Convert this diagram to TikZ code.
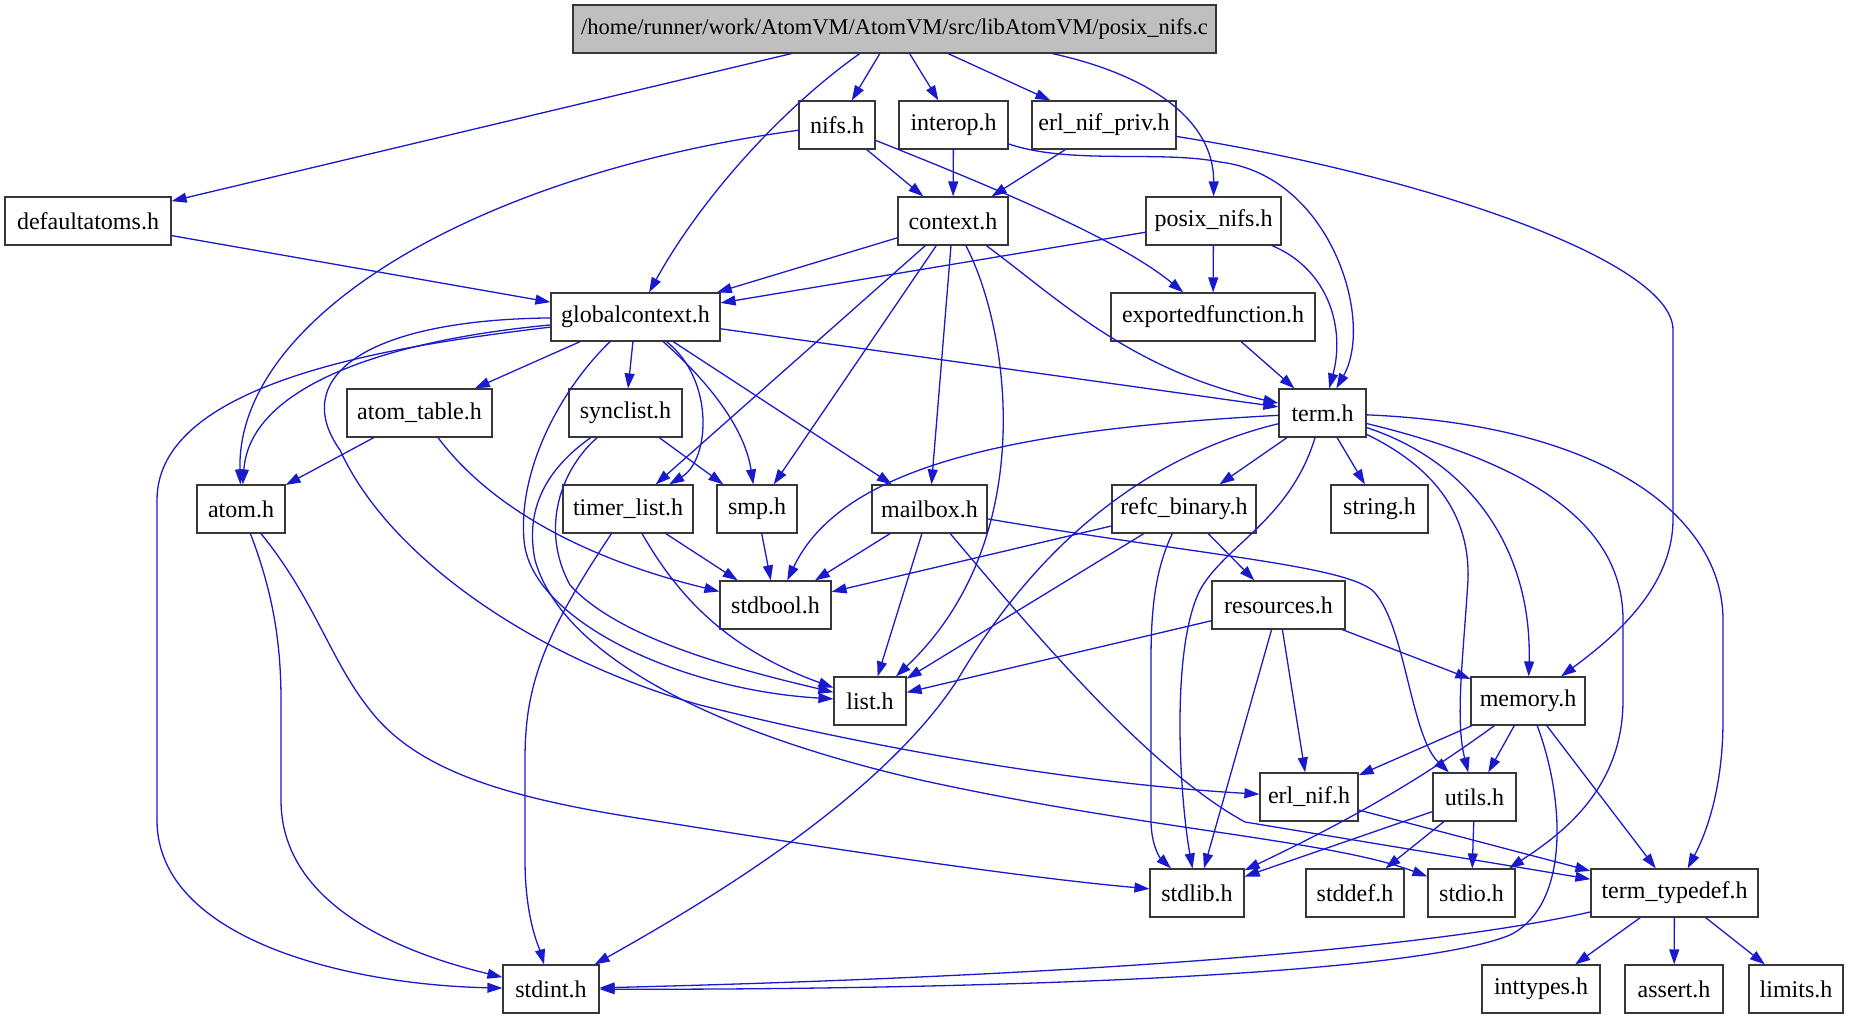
\documentclass[tikz,border=0pt]{standalone}
\usepackage{fontspec}
\setmainfont{Liberation Serif}
\usetikzlibrary{arrows.meta}
\definecolor{edgeblue}{RGB}{25,25,205}
\definecolor{rootgrey}{RGB}{191,191,191}
\definecolor{boxline}{RGB}{55,55,55}

\begin{document}
\begin{tikzpicture}[x=1pt,y=-1pt,
  every node/.style={draw=boxline,line width=1.2pt,fill=white,minimum height=48pt,inner sep=0pt,font=\fontsize{24}{28}\selectfont},
  incl/.style={draw=edgeblue,line width=1.3pt,-{Triangle[length=15pt,width=10pt]}}]
  \useasboundingbox (0,0) rectangle (1849,1019);

  \node[fill=rootgrey,minimum width=643pt,font=\fontsize{22.5}{26}\selectfont] (posixnifsc) at (894.5,29) {/home/runner/work/AtomVM/AtomVM/src/libAtomVM/posix\_nifs.c};
  \node[minimum width=76pt] (nifs) at (837,125) {nifs.h};
  \node[minimum width=109pt] (interop) at (953.5,125) {interop.h};
  \node[minimum width=144pt] (erlnifpriv) at (1104,125) {erl\_nif\_priv.h};
  \node[minimum width=166pt] (defaultatoms) at (88,221) {defaultatoms.h};
  \node[minimum width=110pt] (context) at (953,221) {context.h};
  \node[minimum width=135pt] (posixnifs) at (1213.5,221) {posix\_nifs.h};
  \node[minimum width=169pt] (globalcontext) at (635.5,317) {globalcontext.h};
  \node[minimum width=204pt] (exportedfunction) at (1213,317) {exportedfunction.h};
  \node[minimum width=145pt] (atomtable) at (419.5,413) {atom\_table.h};
  \node[minimum width=113pt] (synclist) at (625.5,413) {synclist.h};
  \node[minimum width=87pt] (term) at (1322.5,413) {term.h};
  \node[minimum width=88pt] (atom) at (241,509) {atom.h};
  \node[minimum width=130pt] (timerlist) at (628,509) {timer\_list.h};
  \node[minimum width=80pt] (smp) at (757,509) {smp.h};
  \node[minimum width=115pt] (mailbox) at (929.5,509) {mailbox.h};
  \node[minimum width=144pt] (refcbinary) at (1184,509) {refc\_binary.h};
  \node[minimum width=97pt] (string) at (1379.5,509) {string.h};
  \node[minimum width=111pt] (stdbool) at (775.5,605) {stdbool.h};
  \node[minimum width=133pt] (resources) at (1278.5,605) {resources.h};
  \node[minimum width=72pt] (list) at (870,701) {list.h};
  \node[minimum width=114pt] (memory) at (1528,701) {memory.h};
  \node[minimum width=98pt] (erlnif) at (1309,797) {erl\_nif.h};
  \node[minimum width=83pt] (utils) at (1474.5,797) {utils.h};
  \node[minimum width=94pt] (stdlib) at (1197,893) {stdlib.h};
  \node[minimum width=98pt] (stddef) at (1355,893) {stddef.h};
  \node[minimum width=87pt] (stdio) at (1471.5,893) {stdio.h};
  \node[minimum width=167pt] (termtypedef) at (1674.5,893) {term\_typedef.h};
  \node[minimum width=96pt] (stdint) at (551,989) {stdint.h};
  \node[minimum width=118pt] (inttypes) at (1541,989) {inttypes.h};
  \node[minimum width=98pt] (assert) at (1674,989) {assert.h};
  \node[minimum width=94pt] (limits) at (1796,989) {limits.h};

  % straight includes
  \foreach \a/\b in {posixnifsc/defaultatoms,posixnifsc/nifs,posixnifsc/interop,posixnifsc/erlnifpriv,
    nifs/context,interop/context,erlnifpriv/context,defaultatoms/globalcontext,context/globalcontext,
    context/timerlist,context/smp,context/mailbox,posixnifs/globalcontext,posixnifs/exportedfunction,
    exportedfunction/term,globalcontext/term,globalcontext/atomtable,globalcontext/synclist,globalcontext/mailbox,
    atomtable/atom,synclist/smp,timerlist/stdbool,smp/stdbool,mailbox/stdbool,mailbox/list,
    term/refcbinary,term/string,refcbinary/stdbool,refcbinary/list,refcbinary/resources,
    resources/list,resources/stdlib,resources/erlnif,resources/memory,
    memory/erlnif,memory/utils,memory/termtypedef,utils/stdlib,utils/stddef,utils/stdio,
    erlnif/termtypedef,termtypedef/inttypes,termtypedef/assert,termtypedef/limits}
    {\draw[incl] (\a) -- (\b);}

  % curved includes
  \draw[incl] (posixnifsc) .. controls (780,110) and (700,200) .. (globalcontext);
  \draw[incl] ([xshift=158pt]posixnifsc.south) .. controls (1150,75) and (1214,120) .. (posixnifs);
  \draw[incl] (nifs) .. controls (470,175) and (236,320) .. (atom);
  \draw[incl] (nifs) .. controls (1000,190) and (1120,240) .. (exportedfunction);
  \draw[incl] (interop) .. controls (1070,165) and (1160,150) .. (1220,162) .. controls (1330,175) and (1375,320) .. (term);
  \draw[incl] (erlnifpriv) .. controls (1420,175) and (1673,260) .. (1673,330) -- (1673,519) .. controls (1673,590) and (1610,640) .. (memory);
  \draw[incl] (context) .. controls (1010,330) and (1040,540) .. (list);
  \draw[incl] (context) .. controls (1060,300) and (1130,370) .. (term);
  \draw[incl] (posixnifs) .. controls (1330,270) and (1345,330) .. (term);
  \draw[incl] (globalcontext) .. controls (715,380) and (710,460) .. (timerlist);
  \draw[incl] (globalcontext) .. controls (712,385) and (745,430) .. (smp);
  \draw[incl] (globalcontext) .. controls (390,340) and (250,385) .. (atom);
  \draw[incl] (globalcontext) .. controls (400,345) and (157,380) .. (157,500) -- (157,820) .. controls (157,940) and (350,985) .. (stdint);
  \draw[incl] (globalcontext) .. controls (360,320) and (290,380) .. (340,450) .. controls (390,560) and (540,660) .. (700,705) .. controls (900,755) and (1100,785) .. (erlnif);
  \draw[incl] (globalcontext) .. controls (560,390) and (518,470) .. (524,540) .. controls (530,620) and (680,690) .. (list);
  \draw[incl] (synclist) .. controls (560,470) and (540,530) .. (570,585) .. controls (620,640) and (740,670) .. (list);
  \draw[incl] (synclist) .. controls (545,470) and (525,510) .. (535,560) .. controls (560,650) and (700,730) .. (925,781) .. controls (1150,830) and (1330,840) .. (stdio);
  \draw[incl] (timerlist) .. controls (680,600) and (730,650) .. (list);
  \draw[incl] (timerlist) .. controls (540,640) and (525,690) .. (525,760) -- (525,860) .. controls (525,920) and (540,950) .. (stdint);
  \draw[incl] (atomtable) .. controls (500,520) and (610,565) .. (stdbool);
  \draw[incl] (atom) .. controls (272,590) and (281,640) .. (281,700) -- (281,800) .. controls (281,900) and (390,950) .. (stdint);
  \draw[incl] (atom) .. controls (315,600) and (330,660) .. (370,710) .. controls (420,775) and (520,800) .. (650,820) .. controls (900,860) and (1050,880) .. (stdlib);
  \draw[incl] (mailbox) .. controls (1200,555) and (1340,565) .. (1372,590) .. controls (1405,620) and (1410,735) .. (utils);
  \draw[incl] (mailbox) .. controls (1040,640) and (1150,770) .. (1245,822) -- (termtypedef);
  \draw[incl] (term) .. controls (1000,430) and (840,470) .. (stdbool);
  \draw[incl] (term) .. controls (1150,455) and (1040,540) .. (958,679) .. controls (880,800) and (700,905) .. (stdint);
  \draw[incl] (term) .. controls (1290,520) and (1225,545) .. (1200,590) .. controls (1170,650) and (1180,800) .. (stdlib);
  \draw[incl] (term) .. controls (1440,470) and (1470,520) .. (1468,580) .. controls (1463,660) and (1455,720) .. (utils);
  \draw[incl] (term) .. controls (1480,465) and (1532,560) .. (memory);
  \draw[incl] (term) .. controls (1560,470) and (1623,540) .. (1623,620) -- (1623,700) .. controls (1623,790) and (1560,835) .. (stdio);
  \draw[incl] (term) .. controls (1610,425) and (1723,520) .. (1723,620) -- (1723,720) .. controls (1723,800) and (1700,845) .. (termtypedef);
  \draw[incl] (refcbinary) .. controls (1155,570) and (1151,610) .. (1151,660) -- (1151,820) .. controls (1151,845) and (1160,858) .. (stdlib);
  \draw[incl] (memory) .. controls (1420,780) and (1350,820) .. (stdlib);
  \draw[incl] (memory) .. controls (1565,800) and (1570,905) .. (1510,935) .. controls (1400,980) and (900,990) .. (stdint);
  \draw[incl] (termtypedef) .. controls (1400,955) and (1000,978) .. (stdint);
\end{tikzpicture}
\end{document}
